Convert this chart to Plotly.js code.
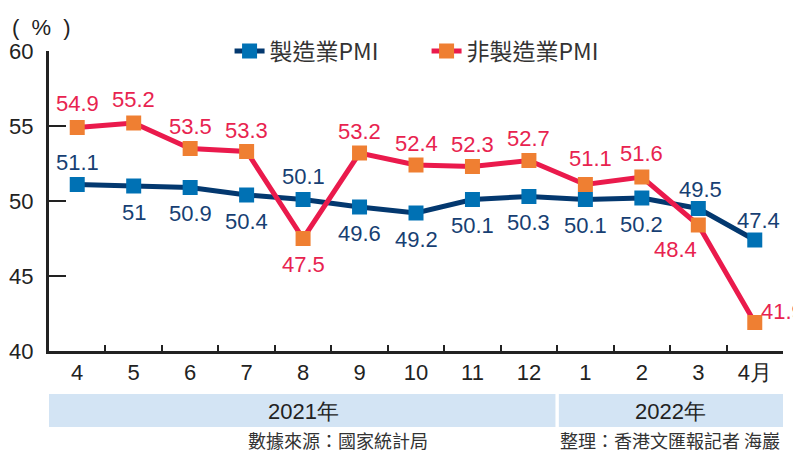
<!DOCTYPE html>
<html>
<head>
<meta charset="utf-8">
<script src="https://cdn.plot.ly/plotly-3.0.1.min.js"></script>
<style>html,body{margin:0;padding:0;background:#fff;}#chart{width:793px;height:450px;}</style>
</head>
<body>
<div id="chart"></div>
<script>
// ---- data ----
const months = ['4', '5', '6', '7', '8', '9', '10', '11', '12', '1', '2', '3', '4月'];
const mfgPMI = [51.1, 51, 50.9, 50.4, 50.1, 49.6, 49.2, 50.1, 50.3, 50.1, 50.2, 49.5, 47.4];
const nonMfgPMI = [54.9, 55.2, 53.5, 53.3, 47.5, 53.2, 52.4, 52.3, 52.7, 51.1, 51.6, 48.4, 41.9];
const seriesNames = ['製造業PMI', '非製造業PMI'];
const yearLabels = ['2021年', '2022年'];
const yTicks = [40, 45, 50, 55, 60];
const unitLabel = '(\u00a0\u00a0%\u00a0\u00a0)';
const sourceText = '數據來源：國家統計局';
const creditText = '整理：香港文匯報記者 海巖';

// ---- label placement (style) ----
// [xshift, yshift, xanchor]
const mfgLabelPos = [
  [0, 22, 'center'], [0, -26, 'center'], [0, -26, 'center'], [0, -26, 'center'],
  [0, 23, 'center'], [0, -26, 'center'], [0, -26, 'center'], [0, -26, 'center'],
  [0, -26, 'center'], [0, -26, 'center'], [0, -26, 'center'], [2, 19, 'center'],
  [4, 20, 'center']
];
const nonLabelPos = [
  [0, 24, 'center'], [0, 24, 'center'], [0, 22, 'center'], [0, 21, 'center'],
  [0, -26, 'center'], [0, 22, 'center'], [0, 22, 'center'], [0, 22, 'center'],
  [0, 22, 'center'], [5, 26, 'center'], [0, 24, 'center'], [-23, -24, 'center'],
  [4, 11, 'left']
];

const NAVY = '#03386f', BLUE = '#0071b4', RED = '#ea1a4c', ORANGE = '#ef7f32';
const NAVY_TXT = '#173f73', RED_TXT = '#e8234f';
const NUMFONT = 'Liberation Sans, Arial, sans-serif';
const CJK = 'Noto Sans CJK TC, Noto Sans CJK SC, sans-serif';

const traces = [
  {
    x: months, y: mfgPMI, name: seriesNames[0], type: 'scatter', mode: 'lines+markers',
    line: {color: NAVY, width: 5},
    marker: {symbol: 'square', size: 15, color: BLUE}
  },
  {
    x: months, y: nonMfgPMI, name: seriesNames[1], type: 'scatter', mode: 'lines+markers',
    line: {color: RED, width: 5},
    marker: {symbol: 'square', size: 15, color: ORANGE}
  }
];

const annotations = [];
function addLabels(vals, pos, color) {
  vals.forEach((v, i) => {
    annotations.push({
      x: i, y: v, xref: 'x', yref: 'y', text: String(v), showarrow: false,
      xanchor: pos[i][2], yanchor: 'middle', xshift: pos[i][0], yshift: pos[i][1],
      font: {family: NUMFONT, size: 22, color: color}
    });
  });
}
addLabels(mfgPMI, mfgLabelPos, NAVY_TXT);
addLabels(nonMfgPMI, nonLabelPos, RED_TXT);

// year labels
annotations.push({x: 4, y: -0.2, xref: 'x', yref: 'paper', text: yearLabels[0], showarrow: false,
  xanchor: 'center', yanchor: 'middle', font: {family: NUMFONT, size: 22, color: '#222'}});
annotations.push({x: 10.5, y: -0.2, xref: 'x', yref: 'paper', text: yearLabels[1], showarrow: false,
  xanchor: 'center', yanchor: 'middle', font: {family: NUMFONT, size: 22, color: '#222'}});
// unit
annotations.push({x: (10 - 49) / 734, y: 1, xref: 'paper', yref: 'paper', text: unitLabel, showarrow: false,
  xanchor: 'left', yanchor: 'middle', yshift: 24, font: {family: NUMFONT, size: 22, color: '#222'}});
// source & credit
annotations.push({x: (430 - 49) / 734, y: -0.297, xref: 'paper', yref: 'paper', text: sourceText, showarrow: false,
  xanchor: 'right', yanchor: 'middle', font: {family: CJK, size: 18, color: '#333'}});
annotations.push({x: (782 - 49) / 734, y: -0.297, xref: 'paper', yref: 'paper', text: creditText, showarrow: false,
  xanchor: 'right', yanchor: 'middle', font: {family: CJK, size: 18, color: '#333'}});

const layout = {
  width: 793, height: 450,
  margin: {l: 49, r: 10, t: 51, b: 99, pad: 0},
  paper_bgcolor: '#fff', plot_bgcolor: '#fff',
  showlegend: true,
  legend: {
    orientation: 'h', x: 0.246, xanchor: 'left', y: 1.0, yanchor: 'middle',
    font: {family: CJK, size: 23, color: '#333'},
    bgcolor: 'rgba(0,0,0,0)', entrywidth: 152, entrywidthmode: 'pixels', itemclick: false
  },
  xaxis: {
    type: 'category', range: [-0.5, 12.5], fixedrange: true,
    showline: true, linecolor: '#222', linewidth: 3,
    ticks: 'inside', ticklen: 6, tickwidth: 2, tickcolor: '#222', tickson: 'boundaries',
    showgrid: false, zeroline: false,
    tickfont: {family: NUMFONT, size: 22, color: '#222'}
  },
  yaxis: {
    range: [40, 60], fixedrange: true, tickvals: yTicks,
    showline: true, linecolor: '#222', linewidth: 3,
    ticks: 'inside', ticklen: 17, tickwidth: 2.5, tickcolor: '#222',
    showgrid: false, zeroline: false, ticklabelstandoff: 8,
    tickfont: {family: NUMFONT, size: 22, color: '#222'}
  },
  shapes: [
    {type: 'rect', xref: 'x', yref: 'paper', x0: -0.6, x1: 8.47, y0: -0.143, y1: -0.253,
      fillcolor: '#d3e4f4', line: {width: 0}, layer: 'below'},
    {type: 'rect', xref: 'x', yref: 'paper', x0: 8.53, x1: 12.5, y0: -0.143, y1: -0.253,
      fillcolor: '#d3e4f4', line: {width: 0}, layer: 'below'}
  ],
  annotations: annotations
};

Plotly.newPlot('chart', traces, layout, {displayModeBar: false, staticPlot: true});
</script>
</body>
</html>
